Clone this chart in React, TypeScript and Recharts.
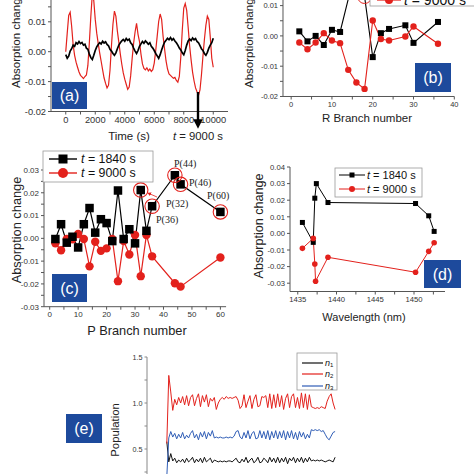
import React from "react";
import { LineChart, Line, XAxis, YAxis, ReferenceDot } from "recharts";

const RED = "#e3211c";
const BLUE = "#2f5db6";
const BOX = "#1d4a9c";
const AXIS = "#555";
const TICK = "#333";
const SANS = "'Liberation Sans', Arial, sans-serif";
const SERIF = "'Liberation Serif', 'Times New Roman', serif";

// (a) absorption change vs time, sampled every 100 s
const timeA = [
  0, 100, 200, 300, 400, 500, 600, 700, 800, 900,
  1000, 1100, 1200, 1300, 1400, 1500, 1600, 1700, 1800, 1900,
  2000, 2100, 2200, 2300, 2400, 2500, 2600, 2700, 2800, 2900,
  3000, 3100, 3200, 3300, 3400, 3500, 3600, 3700, 3800, 3900,
  4000, 4100, 4200, 4300, 4400, 4500, 4600, 4700, 4800, 4900,
  5000, 5100, 5200, 5300, 5400, 5500, 5600, 5700, 5800, 5900,
  6000, 6100, 6200, 6300, 6400, 6500, 6600, 6700, 6800, 6900,
  7000, 7100, 7200, 7300, 7400, 7500, 7600, 7700, 7800, 7900,
  8000, 8100, 8200, 8300, 8400, 8500, 8600, 8700, 8800, 8900,
  9000, 9100, 9200, 9300, 9400, 9500, 9600, 9700, 9800, 9900,
  10000,
];
const blackA = [
  -0.001, -0.0022, -0.0015, 0.0002, 0.001, 0.0022, 0.0018, 0.003, 0.0026, 0.0034,
  0.0027, 0.0031, 0.0022, 0.0025, 0.0012, 0.0008, -0.0008, -0.002, -0.0026, -0.0012,
  0.0004, 0.0016, 0.0024, 0.003, 0.0026, 0.0035, 0.0029, 0.0033, 0.0024, 0.002,
  0.0008, 0.0002, -0.0006, -0.0012, -0.0004, 0.001, 0.0022, 0.003, 0.0036, 0.0041,
  0.0035, 0.0044, 0.0038, 0.0042, 0.003, 0.0024, 0.0012, 0.0002, -0.0006, 0.0004,
  0.0018, 0.0026, 0.0034, 0.0028, 0.0036, 0.0031, 0.0025, 0.003, 0.0018, 0.0012,
  0.0004, -0.0006, -0.0014, -0.0022, -0.001, 0.0006, 0.002, 0.0032, 0.0038, 0.0045,
  0.004, 0.0047, 0.0039, 0.0044, 0.0036, 0.003, 0.0022, 0.0012, 0.0006, -0.0004,
  -0.001, 0.0004, 0.0022, 0.0036, 0.0042, 0.0037, 0.0046, 0.004, 0.0044, 0.0034,
  0.003, 0.002, 0.001, 0.0004, -0.0006, -0.0012, -0.0002, 0.0012, 0.0022, 0.003,
  0.0045,
];
const redA = [
  0.0, 0.0062, 0.0121, 0.0132, 0.0085, 0.0024, -0.0012, -0.0035, -0.0052, -0.0068,
  -0.0079, -0.0084, -0.009, -0.0083, -0.0078, -0.0046, 0.003, 0.0118, 0.0192, 0.0171,
  0.0108, 0.0062, 0.0028, -0.0004, -0.0032, -0.0061, -0.0088, -0.0106, -0.0121, -0.0112,
  -0.0062, 0.0021, 0.0092, 0.0136, 0.0118, 0.0069, 0.0031, -0.0008, -0.0042, -0.0071,
  -0.0092, -0.0109, -0.0126, -0.0118, -0.0081, -0.0024, 0.0028, 0.0066, 0.0095, 0.0058,
  0.0034, -0.0008, -0.0041, -0.0056, -0.0061, -0.0054, -0.0064, -0.0058, -0.0066, -0.006,
  -0.0038, 0.0004, 0.0052, 0.0101, 0.0126, 0.0108, 0.0051, 0.0009, -0.0031, -0.0058,
  -0.0074, -0.0079, -0.0084, -0.0089, -0.0086, -0.0096, -0.0102, -0.0083, -0.0018, 0.0072,
  0.0146, 0.0161, 0.0138, 0.0081, 0.0019, -0.0028, -0.0069, -0.0098, -0.0121, -0.0134,
  -0.0146, -0.0128, -0.0078, -0.0016, 0.0041, 0.0088, 0.0119, 0.0108, 0.0048, -0.0022,
  -0.0052,
];
const ticksAX = [0, 1000, 2000, 3000, 4000, 5000, 6000, 7000, 8000, 9000, 10000];
const ticksAY = [-0.02, -0.015, -0.01, -0.005, 0, 0.005, 0.01, 0.015, 0.02, 0.025, 0.03];

// (b) R branch
const bBlackX = [2, 4, 6, 8, 10, 12, 16, 18, 20, 22, 24, 28, 30, 36];
const bBlack = [0.0015, -0.0018, 0.0, -0.003, 0.002, 0.0013, 0.023, 0.013, -0.007, 0.0009, 0.0023, 0.0035, -0.0023, 0.0046];
const bRedX = [2, 4, 6, 8, 10, 12, 14, 16, 18, 20, 22, 24, 28, 30, 36];
const bRed = [-0.0022, -0.0044, -0.0022, 0.0009, -0.0015, -0.0024, -0.0112, -0.0154, -0.0175, 0.0051, -0.001, -0.0015, -0.0002, 0.0031, -0.0026];
const ticksBX = [0, 5, 10, 15, 20, 25, 30, 35, 40];
const ticksBY = [-0.02, -0.015, -0.01, -0.005, 0, 0.005, 0.01, 0.015, 0.02, 0.025, 0.03];

// (c) P branch
const cX = [2, 4, 6, 8, 10, 12, 14, 16, 18, 20, 22, 24, 26, 28, 30, 32, 34, 36, 44, 46, 60];
const cBlack = [-0.0003, 0.0062, -0.0019, 0.0007, -0.004, 0.0062, 0.0133, 0.0025, 0.0084, 0.0067, -0.0012, 0.021, -0.0003, 0.004, -0.0022, 0.0212, 0.0033, 0.0141, 0.0277, 0.0237, 0.0116];
const cRed = [-0.0022, -0.0052, -0.0003, -0.0004, 0.0019, -0.0003, -0.0123, -0.0015, -0.0055, -0.0044, -0.0003, -0.0188, -0.0012, -0.0071, 0.0015, -0.0166, 0.0015, -0.0079, -0.0197, -0.0212, -0.0084];
const circledP = [32, 36, 44, 46, 60];
const ticksCX = [0, 5, 10, 15, 20, 25, 30, 35, 40, 45, 50, 55, 60];
const ticksCY = [-0.03, -0.025, -0.02, -0.015, -0.01, -0.005, 0, 0.005, 0.01, 0.015, 0.02, 0.025, 0.03];

// (d) wavelength
const dBlackX = [1435.6, 1437.0, 1437.2, 1437.4, 1438.9, 1450.2, 1451.9, 1452.6];
const dBlack = [0.0066, -0.0054, 0.0212, 0.03, 0.0186, 0.018, 0.0106, 0.0012];
const dRedX = [1435.6, 1437.0, 1437.2, 1437.3, 1438.9, 1450.2, 1451.9, 1452.6];
const dRed = [-0.009, -0.003, -0.0184, -0.0288, -0.0144, -0.0234, -0.0108, -0.0056];
const ticksDX = [1435, 1437.5, 1440, 1442.5, 1445, 1447.5, 1450, 1452.5];
const ticksDY = [-0.03, -0.02, -0.01, 0, 0.01, 0.02, 0.03, 0.04];

// (e) populations
const n1 = [
  0.58, 0.36, 0.45, 0.37, 0.4, 0.35, 0.38, 0.36, 0.39, 0.35,
  0.4, 0.36, 0.38, 0.41, 0.35, 0.39, 0.36, 0.4, 0.35, 0.41,
  0.36, 0.38, 0.4, 0.35, 0.38, 0.37, 0.36, 0.37, 0.36, 0.37,
  0.36, 0.37, 0.37, 0.36, 0.38, 0.4, 0.36, 0.35, 0.39, 0.36,
  0.41, 0.35, 0.38, 0.4, 0.35, 0.37, 0.41, 0.35, 0.36, 0.4,
  0.38, 0.35, 0.41, 0.36, 0.4, 0.35, 0.41, 0.35, 0.4, 0.36,
  0.41, 0.34, 0.4, 0.37, 0.41, 0.35, 0.4, 0.36, 0.41, 0.35,
  0.4, 0.36, 0.41, 0.37, 0.38, 0.37, 0.38, 0.37, 0.38, 0.37,
  0.36, 0.37, 0.38, 0.37, 0.36, 0.41,
];
const n2 = [
  0.56, 1.3, 1.12, 0.92, 1.04, 0.98, 1.06, 1.0, 1.07, 0.98,
  1.08, 0.97, 1.06, 1.09, 0.97, 1.05, 1.1, 0.96, 1.08, 1.01,
  1.09, 0.96, 1.05, 1.02, 1.06, 0.93, 1.0, 1.04, 1.06, 1.04,
  1.07, 1.05, 1.06, 1.05, 1.06, 1.07, 1.03, 0.94, 0.97, 1.09,
  0.95, 1.02, 1.08, 0.94, 1.04, 1.09, 0.96, 0.97, 1.07, 1.06,
  1.08, 0.95, 1.1, 0.94, 1.09, 0.95, 1.1, 0.96, 1.08, 0.93,
  1.05, 1.1, 0.95, 1.07, 1.1, 0.95, 1.06, 0.94, 1.11, 0.95,
  1.1, 0.93, 1.09, 0.96, 0.95, 0.94, 0.95, 0.94, 0.96, 0.95,
  0.94, 1.02, 1.07, 1.1, 1.0, 0.93,
];
const n3 = [
  0.2, 0.62, 0.69, 0.63, 0.67, 0.61, 0.66, 0.62, 0.68, 0.61,
  0.65, 0.62, 0.67, 0.7, 0.62, 0.66, 0.6, 0.68, 0.63, 0.69,
  0.61, 0.68, 0.64, 0.7, 0.62, 0.63, 0.62, 0.63, 0.62, 0.62,
  0.63, 0.62, 0.63, 0.62, 0.64, 0.69, 0.7, 0.63, 0.61, 0.68,
  0.62, 0.7, 0.61, 0.67, 0.69, 0.61, 0.62, 0.7, 0.62, 0.69,
  0.61, 0.7, 0.6, 0.69, 0.62, 0.7, 0.61, 0.69, 0.62, 0.7,
  0.6, 0.69, 0.62, 0.7, 0.61, 0.68, 0.6, 0.69, 0.63, 0.68,
  0.61, 0.66, 0.62, 0.71, 0.7, 0.71, 0.7, 0.71, 0.69, 0.7,
  0.66, 0.62, 0.6, 0.64, 0.68, 0.69,
];
const ticksEY = [0, 0.25, 0.5, 0.75, 1.0, 1.25, 1.5];

const tableA = timeA.map((t, i) => ({ x: t, black: blackA[i], red: redA[i] }));
const tableC = cX.map((x, i) => ({ x, black: cBlack[i], red: cRed[i] }));
const pts = (xs: number[], ys: number[]) => xs.map((x, i) => ({ x, y: ys[i] }));
const idx = (ys: number[]) => ys.map((y, i) => ({ x: i, y }));

const fmt2 = (v: number) => (Math.abs(v * 100 - Math.round(v * 100)) < 1e-6 ? v.toFixed(2) : "");
const every = (step: number) => (v: number) => (Math.abs(v % step) < 1e-6 ? String(v) : "");
const fmtE = (v: number) => (Math.abs(v * 2 - Math.round(v * 2)) < 1e-6 ? v.toFixed(1) : "");

type Rect = { x0: number; y0: number; x1: number; y1: number };
const PAD = { l: 40, t: 12, r: 12, b: 24 };

function Panel({ rect, data, children }: { rect: Rect; data?: any[]; children: React.ReactNode }) {
  const w = rect.x1 - rect.x0 + PAD.l + PAD.r;
  const h = rect.y1 - rect.y0 + PAD.t + PAD.b;
  return (
    <div style={{ position: "absolute", left: rect.x0 - PAD.l, top: rect.y0 - PAD.t }}>
      <LineChart width={w} height={h} data={data} margin={{ top: PAD.t, right: PAD.r, bottom: 0, left: 0 }}>
        {children}
      </LineChart>
    </div>
  );
}

const squareDot = (size: number, color: string) => (p: any) => {
  const { cx, cy, index } = p;
  if (cx == null || cy == null) return <g key={`s${index}`} />;
  return <rect key={`s${index}`} x={cx - size / 2} y={cy - size / 2} width={size} height={size} fill={color} />;
};

const tickStyle = (size: number) => ({ fontSize: size, fill: TICK, fontFamily: SANS });

function Tag({ x, y, w, h, label }: { x: number; y: number; w: number; h: number; label: string }) {
  return (
    <g>
      <rect x={x} y={y} width={w} height={h} fill={BOX} />
      <text x={x + w / 2} y={y + h / 2} fill="#fff" fontSize={16} fontFamily={SANS} textAnchor="middle" dominantBaseline="central">
        {label}
      </text>
    </g>
  );
}

function VTitle({ x, y, size, text }: { x: number; y: number; size: number; text: string }) {
  return (
    <text transform={`translate(${x},${y}) rotate(-90)`} fontSize={size} fontFamily={SANS} fill="#222" textAnchor="middle" dominantBaseline="central">
      {text}
    </text>
  );
}

function HTitle({ x, y, size, children }: { x: number; y: number; size: number; children: React.ReactNode }) {
  return (
    <text x={x} y={y} fontSize={size} fontFamily={SANS} fill="#222" textAnchor="middle" dominantBaseline="central">
      {children}
    </text>
  );
}

function LegendRow(props: { x0: number; x1: number; y: number; color: string; square?: number; circle?: number; tx: number; size: number; label: string; sw: number }) {
  const { x0, x1, y, color, square, circle, tx, size, label, sw } = props;
  const mx = (x0 + x1) / 2;
  return (
    <g>
      <line x1={x0} x2={x1} y1={y} y2={y} stroke={color} strokeWidth={sw} />
      {square ? <rect x={mx - square / 2} y={y - square / 2} width={square} height={square} fill={color} /> : null}
      {circle ? <circle cx={mx} cy={y} r={circle} fill={color} /> : null}
      <text x={tx} y={y} fontSize={size} fontFamily={SANS} fill="#111" dominantBaseline="central">
        <tspan fontStyle="italic">t</tspan>
        {` = ${label} s`}
      </text>
    </g>
  );
}

function NRow({ y, color, sub }: { y: number; color: string; sub: string }) {
  return (
    <g>
      <line x1={302} x2={323} y1={y} y2={y} stroke={color} strokeWidth={1.2} />
      <text x={325} y={y} fontSize={9} fontFamily={SANS} fontStyle="italic" fill="#111" dominantBaseline="central">
        n<tspan fontSize={6} dy={2} fontStyle="normal">{sub}</tspan>
      </text>
    </g>
  );
}

export default function App() {
  const rA = { x0: 51, y0: -37.8, x1: 228, y1: 111.7 };
  const rB = { x0: 283, y0: -54.8, x1: 454.3, y1: 96.7 };
  const rC = { x0: 43.6, y0: 170, x1: 225.7, y1: 306.7 };
  const rD = { x0: 290.3, y0: 166.7, x1: 445.3, y1: 291.2 };
  const rE = { x0: 147.3, y0: 357.3, x1: 345.3, y1: 495.3 };

  return (
    <div style={{ position: "absolute", left: 0, top: 0, width: 474, height: 474, overflow: "hidden", background: "#fff" }}>
      {/* (a) */}
      <Panel rect={rA} data={tableA}>
        <XAxis type="number" dataKey="x" domain={[-1000, 11000]} ticks={ticksAX} interval={0} tickFormatter={every(2000)} height={PAD.b} stroke={AXIS} tickSize={3} tick={tickStyle(9.3)} />
        <YAxis type="number" domain={[-0.02, 0.03]} ticks={ticksAY} interval={0} tickFormatter={fmt2} width={PAD.l} stroke={AXIS} tickSize={3} tick={tickStyle(9.3)} />
        <Line dataKey="red" stroke={RED} strokeWidth={1.2} dot={false} activeDot={false} isAnimationActive={false} />
        <Line dataKey="black" stroke="#000" strokeWidth={1.7} dot={false} activeDot={false} isAnimationActive={false} />
      </Panel>

      {/* (b) */}
      <Panel rect={rB}>
        <XAxis type="number" dataKey="x" domain={[-2, 40]} ticks={ticksBX} interval={0} tickFormatter={every(10)} height={PAD.b} stroke={AXIS} tickSize={3} tick={tickStyle(7.5)} />
        <YAxis type="number" domain={[-0.02, 0.03]} ticks={ticksBY} interval={0} tickFormatter={fmt2} width={PAD.l} stroke={AXIS} tickSize={3} tick={tickStyle(7.5)} />
        <Line data={pts(bBlackX, bBlack)} dataKey="y" stroke="#000" strokeWidth={1.1} dot={squareDot(6, "#000")} activeDot={false} isAnimationActive={false} />
        <Line data={pts(bRedX, bRed)} dataKey="y" stroke={RED} strokeWidth={1.1} dot={{ r: 3.2, fill: RED, stroke: RED, strokeWidth: 0 }} activeDot={false} isAnimationActive={false} />
        <ReferenceDot x={18} y={bBlack[bBlackX.indexOf(18)]} r={7} fill="none" stroke={RED} strokeWidth={1} />
      </Panel>

      {/* (c) */}
      <Panel rect={rC} data={tableC}>
        <XAxis type="number" dataKey="x" domain={[-2, 62]} ticks={ticksCX} interval={0} tickFormatter={every(10)} height={PAD.b} stroke={AXIS} tickSize={3} tick={tickStyle(8)} />
        <YAxis type="number" domain={[-0.03, 0.03]} ticks={ticksCY} interval={0} tickFormatter={fmt2} width={PAD.l} stroke={AXIS} tickSize={3} tick={tickStyle(8)} />
        <Line dataKey="red" stroke={RED} strokeWidth={1.2} dot={{ r: 4.2, fill: RED, stroke: RED, strokeWidth: 0 }} activeDot={false} isAnimationActive={false} />
        <Line dataKey="black" stroke="#000" strokeWidth={1.2} dot={squareDot(8.5, "#000")} activeDot={false} isAnimationActive={false} />
        {circledP.map((p) => (
          <ReferenceDot key={p} x={p} y={cBlack[cX.indexOf(p)]} r={7.2} fill="none" stroke={RED} strokeWidth={1.1} />
        ))}
      </Panel>

      {/* (d) */}
      <Panel rect={rD}>
        <XAxis type="number" dataKey="x" domain={[1434, 1454]} ticks={ticksDX} interval={0} tickFormatter={every(5)} height={PAD.b} stroke={AXIS} tickSize={3} tick={tickStyle(7.7)} />
        <YAxis type="number" domain={[-0.035, 0.04]} ticks={ticksDY} interval={0} tickFormatter={fmt2} width={PAD.l} stroke={AXIS} tickSize={3} tick={tickStyle(7.7)} />
        <Line data={pts(dBlackX, dBlack)} dataKey="y" stroke="#000" strokeWidth={1} dot={squareDot(5, "#000")} activeDot={false} isAnimationActive={false} />
        <Line data={pts(dRedX, dRed)} dataKey="y" stroke={RED} strokeWidth={1} dot={{ r: 2.8, fill: RED, stroke: RED, strokeWidth: 0 }} activeDot={false} isAnimationActive={false} />
      </Panel>

      {/* (e) */}
      <Panel rect={rE}>
        <XAxis type="number" dataKey="x" domain={[-10, 90]} height={PAD.b} stroke="#888" tickSize={3} tick={tickStyle(7.2)} />
        <YAxis type="number" domain={[0, 1.5]} ticks={ticksEY} interval={0} tickFormatter={fmtE} width={PAD.l} stroke="#888" tickSize={2.5} tick={tickStyle(7.2)} />
        <Line data={idx(n1)} dataKey="y" stroke="#111" strokeWidth={1} dot={false} activeDot={false} isAnimationActive={false} />
        <Line data={idx(n2)} dataKey="y" stroke={RED} strokeWidth={1} dot={false} activeDot={false} isAnimationActive={false} />
        <Line data={idx(n3)} dataKey="y" stroke={BLUE} strokeWidth={1} dot={false} activeDot={false} isAnimationActive={false} />
      </Panel>

      <svg width={474} height={474} style={{ position: "absolute", left: 0, top: 0, pointerEvents: "none" }}>
        <defs>
          <marker id="headK" viewBox="0 0 10 10" refX="5" refY="5" markerWidth="4" markerHeight="4" orient="auto">
            <path d="M0,0 L10,5 L0,10 z" fill="#000" />
          </marker>
          <marker id="headR" viewBox="0 0 10 10" refX="5" refY="5" markerWidth="5" markerHeight="5" orient="auto">
            <path d="M0,0 L10,5 L0,10 z" fill={RED} />
          </marker>
        </defs>

        {/* (a) annotations */}
        <VTitle x={16} y={40} size={11.5} text="Absorption change" />
        <HTitle x={129} y={136} size={11.5}>Time (s)</HTitle>
        <HTitle x={198} y={136} size={11.3}>
          <tspan fontStyle="italic">t</tspan> = 9000 s
        </HTitle>
        <line x1={198} y1={92} x2={198} y2={124} stroke="#000" strokeWidth={2.4} markerEnd="url(#headK)" />
        <Tag x={52} y={82} w={35} h={27} label="(a)" />

        {/* (b) annotations */}
        <VTitle x={249} y={40} size={11.5} text="Absorption change" />
        <HTitle x={367} y={118} size={11.5}>R Branch number</HTitle>
        <rect x={370} y={-30} width={112} height={36} fill="#fff" stroke="#999" strokeWidth={0.8} />
        <LegendRow x0={377} x1={401} y={-15} color="#000" square={7} tx={404} size={14} label="1840" sw={1.2} />
        <LegendRow x0={377} x1={401} y={0} color={RED} circle={4} tx={404} size={14} label="9000" sw={1.2} />
        <Tag x={415} y={63} w={36} h={29} label="(b)" />

        {/* (c) annotations */}
        <rect x={43} y={151} width={110} height={31} fill="#fff" stroke="#999" strokeWidth={0.8} />
        <LegendRow x0={49} x1={77} y={159} color="#000" square={9} tx={81} size={12.4} label="1840" sw={1.4} />
        <LegendRow x0={49} x1={77} y={173} color={RED} circle={5} tx={81} size={12.4} label="9000" sw={1.4} />
        <VTitle x={16} y={230} size={12.8} text="Absorption change" />
        <HTitle x={137} y={330} size={12.8}>P Branch number</HTitle>
        <g fontFamily={SERIF} fontSize={10} fill="#222" dominantBaseline="central">
          <text x={174} y={163}>P(44)</text>
          <text x={189} y={182}>P(46)</text>
          <text x={207} y={195}>P(60)</text>
          <text x={166} y={203}>P(32)</text>
          <text x={156} y={219}>P(36)</text>
        </g>
        <line x1={157} y1={197} x2={149} y2={193.5} stroke={RED} strokeWidth={0.8} markerEnd="url(#headR)" />
        <Tag x={52} y={274} w={35} h={28} label="(c)" />

        {/* (d) annotations */}
        <rect x={335} y={168} width={87} height={29} fill="#fff" stroke="#999" strokeWidth={0.8} />
        <LegendRow x0={339} x1={365} y={175} color="#000" square={5} tx={367} size={11} label="1840" sw={1} />
        <LegendRow x0={339} x1={365} y={189} color={RED} circle={3} tx={367} size={11} label="9000" sw={1} />
        <VTitle x={259} y={226} size={12.6} text="Absorption change" />
        <HTitle x={364} y={317} size={11}>Wavelength (nm)</HTitle>
        <Tag x={424} y={260} w={37} h={28} label="(d)" />

        {/* (e) annotations */}
        <rect x={297} y={353} width={40} height={37} fill="#fff" stroke="#999" strokeWidth={0.8} />
        <NRow y={363} color="#111" sub="1" />
        <NRow y={374} color={RED} sub="2" />
        <NRow y={386} color={BLUE} sub="3" />
        <VTitle x={115} y={430} size={11.3} text="Population" />
        <Tag x={66} y={414} w={36} h={29} label="(e)" />
      </svg>
    </div>
  );
}
